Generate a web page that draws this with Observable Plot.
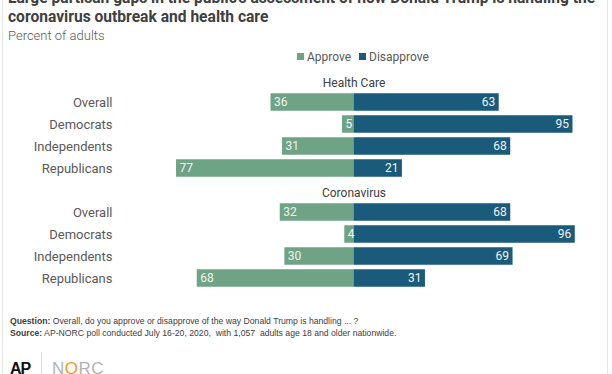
<!DOCTYPE html>
<html>
<head>
<meta charset="utf-8">
<script src="https://cdn.jsdelivr.net/npm/d3@7"></script>
<script src="https://cdn.jsdelivr.net/npm/@observablehq/plot@0.6"></script>
<style>
  html, body { margin: 0; padding: 0; background: #fff; }
  body { width: 612px; height: 374px; position: relative; overflow: hidden; font-family: Roboto, "Noto Sans", sans-serif; }
  .frame { position: absolute; left: 2px; top: 0; width: 604px; height: 374px; border-left: 1px solid #e6e6e6; border-right: 1px solid #e6e6e6; }
  .title { position: absolute; left: 8px; top: -11px; width: 604px; font-size: 15.6px; font-weight: 700; line-height: 19px; color: #404040; white-space: nowrap; }
  .subtitle { position: absolute; left: 8px; top: 28px; font-size: 13px; font-weight: 300; line-height: 15px; color: #595959; }
  .legend { position: absolute; top: 50px; left: 0; width: 612px; height: 14px; font-size: 12px; color: #595959; }
  .legend span.item { position: absolute; top: 0; line-height: 14px; white-space: nowrap; }
  .legend span.sw { display: inline-block; width: 7px; height: 7px; margin-right: 3px; vertical-align: 1px; }
  #chart { position: absolute; left: 0; top: 69px; }
  .foot { position: absolute; left: 10px; font-family: "Liberation Sans", Arial, sans-serif; font-size: 9.5px; color: #404040; white-space: nowrap; line-height: 11px; transform: scaleX(0.91); transform-origin: 0 0; }
  .ap { position: absolute; left: 10px; top: 360px; font-family: "Liberation Sans", Arial, sans-serif; font-weight: 700; font-size: 16px; color: #111; letter-spacing: -1px; }
  .divider { position: absolute; left: 41px; top: 352px; width: 1px; height: 22px; background: #dcdcdc; }
  .norc { position: absolute; left: 52px; top: 359px; font-family: "Liberation Sans", Arial, sans-serif; font-weight: 400; font-size: 17px; color: #b3b3b3; letter-spacing: 0.5px; }
  .norc .o { color: #f39a2b; }
</style>
</head>
<body>
<div class="frame"></div>
<div class="title">Large partisan gaps in the public's assessment of how Donald Trump is handling the<br>coronavirus outbreak and health care</div>
<div class="subtitle">Percent of adults</div>
<div class="legend" id="legend"></div>
<div id="chart"></div>
<div class="foot" style="top:315px"><b>Question:</b> Overall, do you approve or disapprove of the way Donald Trump is handling ... ?</div>
<div class="foot" style="top:327px"><b>Source:</b> AP-NORC poll conducted July 16-20, 2020,&nbsp; with 1,057&nbsp; adults age 18 and older nationwide.</div>
<div class="ap">AP</div>
<div class="divider"></div>
<div class="norc">N<span class="o">O</span>RC</div>
<script>
// ---- data ----
const topics = ["Health Care", "Coronavirus"];
const groups = ["Overall", "Democrats", "Independents", "Republicans"];
const series = ["Approve", "Disapprove"];
const colors = ["#6fa386", "#1a5b7b"];
const approveHealthCare = [36, 5, 31, 77];
const disapproveHealthCare = [63, 95, 68, 21];
const approveCoronavirus = [32, 4, 30, 68];
const disapproveCoronavirus = [68, 96, 69, 31];

const approveByTopic = [approveHealthCare, approveCoronavirus];
const disapproveByTopic = [disapproveHealthCare, disapproveCoronavirus];

// ---- build table ----
const keys = [];
const rows = [];
const headers = [];
topics.forEach((t, ti) => {
  const hk = t + "|__header";
  keys.push(hk);
  headers.push({key: hk, label: t});
  groups.forEach((g, gi) => {
    const k = t + "|" + g;
    keys.push(k);
    rows.push({key: k, group: g, approve: approveByTopic[ti][gi], disapprove: disapproveByTopic[ti][gi]});
  });
});

// ---- legend ----
const legend = document.getElementById("legend");
const legendX = [297, 359];
series.forEach((s, i) => {
  const el = document.createElement("span");
  el.className = "item";
  el.style.left = legendX[i] + "px";
  el.innerHTML = `<span class="sw" style="background:${colors[i]}"></span>${s}`;
  legend.appendChild(el);
});

// ---- chart ----
const fmt = d => d.endsWith("|__header") ? "" : d.split("|")[1];
const chart = Plot.plot({
  width: 612,
  height: 220,
  marginLeft: 123,
  marginRight: 28,
  marginTop: 0,
  marginBottom: 0,
  style: {fontFamily: "Roboto, sans-serif", fontSize: "13px", color: "#595959", background: "transparent"},
  x: {domain: [-100, 100], axis: null},
  y: {domain: keys, padding: 0, label: null, axis: null},
  marks: [
    Plot.ruleX(keys.slice(1), {x: () => -100, y: d => d, stroke: "#d9d9d9", strokeWidth: 1.5}),
    Plot.barX(rows, {y: "key", x1: d => -d.approve, x2: 0, fill: colors[0], insetTop: 2.25, insetBottom: 2.25}),
    Plot.barX(rows, {y: "key", x1: 0, x2: "disapprove", fill: colors[1], insetTop: 2.25, insetBottom: 2.25}),
    Plot.text(rows, {y: "key", x: d => -d.approve, text: d => String(d.approve), textAnchor: "start", dx: 3, fill: "#f2f2f2", fontSize: 12}),
    Plot.text(rows, {y: "key", x: "disapprove", text: d => String(d.disapprove), textAnchor: "end", dx: -4, fill: "#f2f2f2", fontSize: 12}),
    Plot.text(headers, {y: "key", x: 0, text: "label", textAnchor: "middle", dy: 3, fill: "#404040", fontSize: 12}),
    Plot.axisY({label: null, tickSize: 0, tickPadding: 11, fontSize: 13, tickFormat: fmt})
  ]
});
document.getElementById("chart").appendChild(chart);
</script>
</body>
</html>
